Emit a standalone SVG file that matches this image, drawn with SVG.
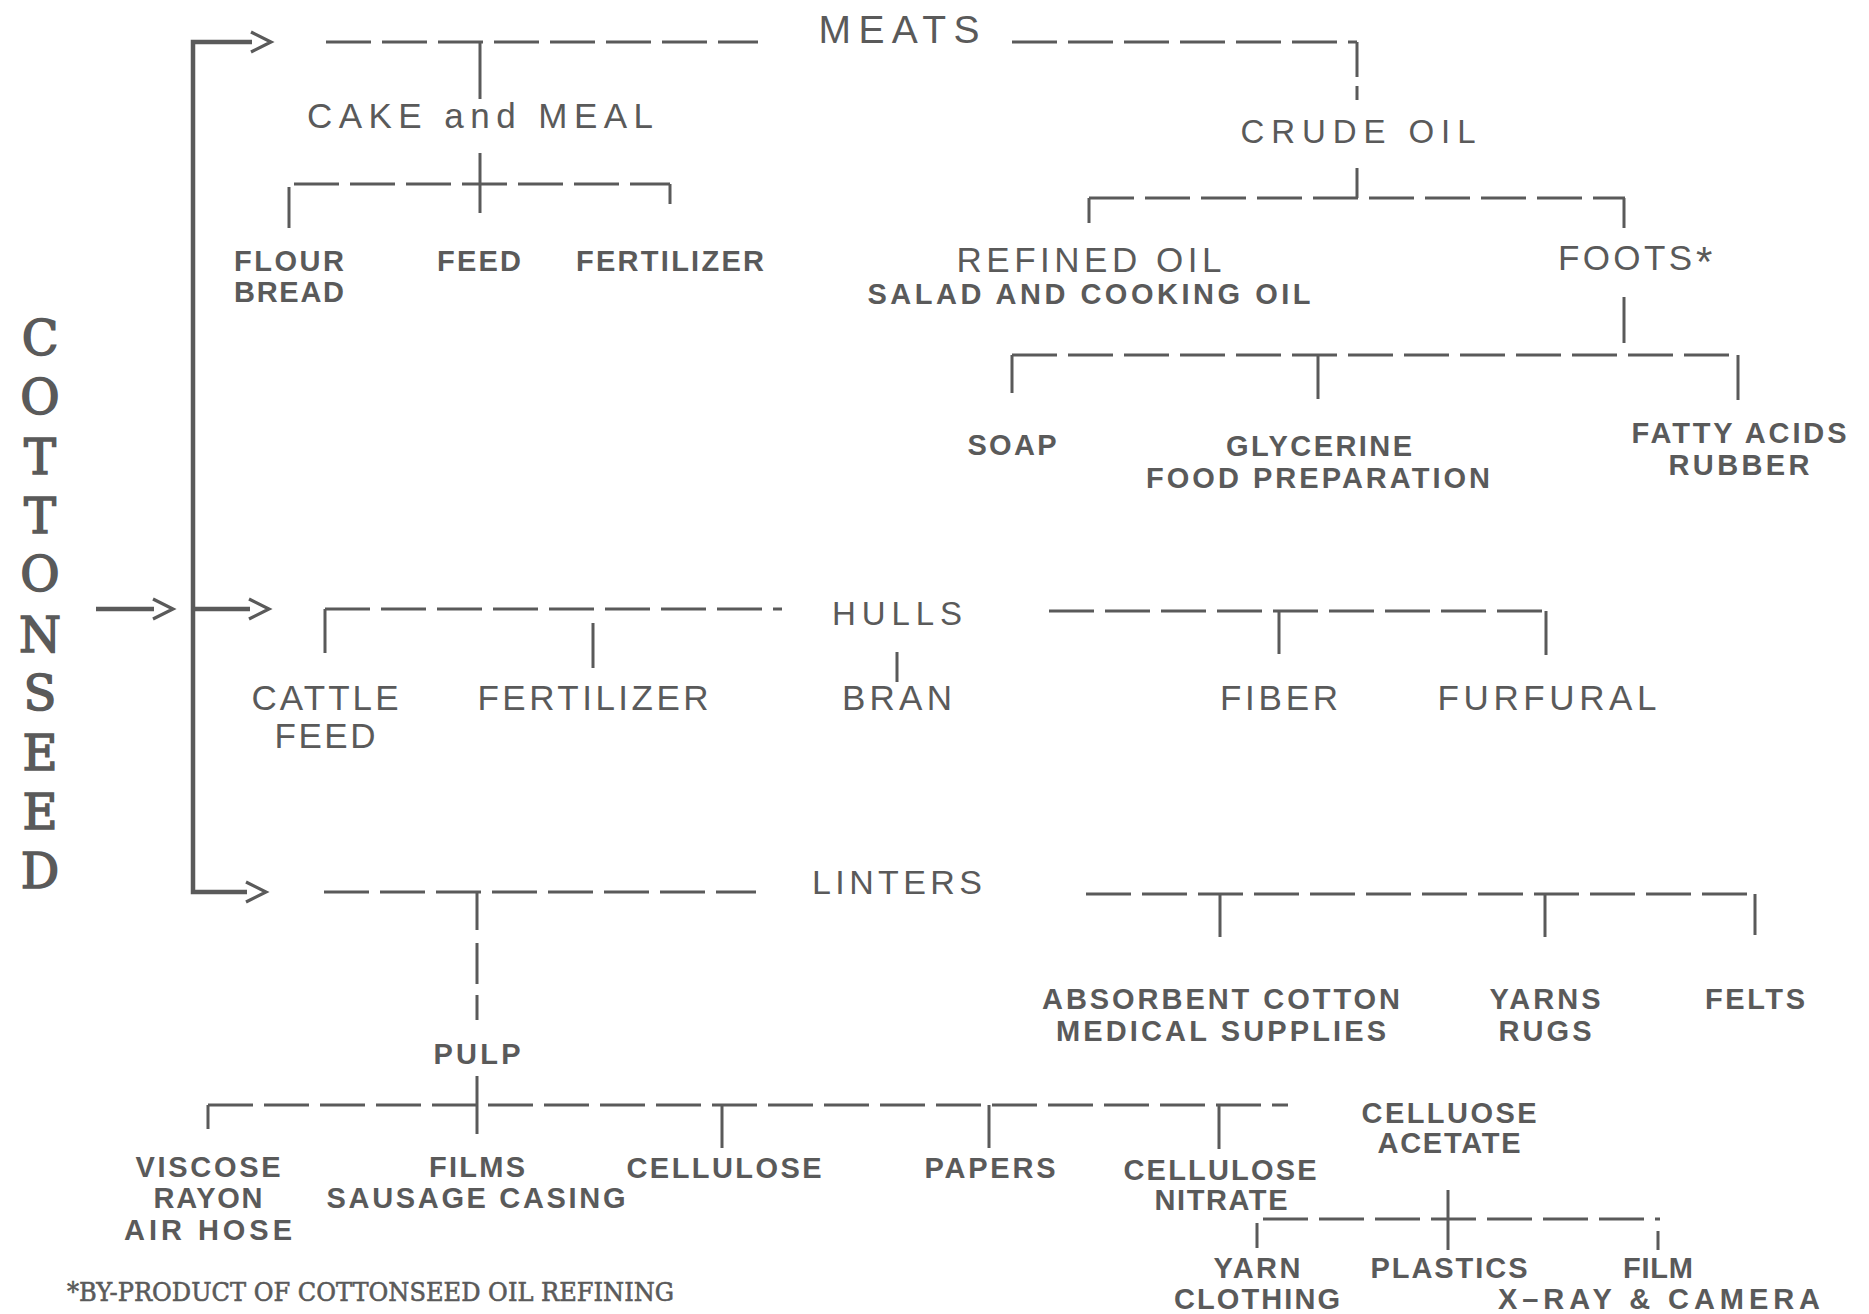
<svg xmlns="http://www.w3.org/2000/svg" width="1869" height="1314" viewBox="0 0 1869 1314">
<defs>
<style>
.ln{stroke:#5a5a5a;stroke-width:3;fill:none}
.dash{stroke-dasharray:45 11}
.bar{stroke-width:4.5;stroke-linejoin:miter}
.t{font-family:"Liberation Sans",Arial,sans-serif;fill:#5a5a5a;text-anchor:middle}
.big{font-size:35px}
.sm{font-size:29px;font-weight:bold}
.ser{font-family:"DejaVu Serif","Liberation Serif",serif;fill:#5a5a5a;stroke:#5a5a5a}
</style>
<marker id="chev" markerUnits="userSpaceOnUse" viewBox="-24 -14 28 28" markerWidth="28" markerHeight="28" refX="-19" refY="0" orient="auto-start-reverse" overflow="visible">
<path d="M-20,-10 L0,0 L-20,10" fill="none" stroke="#5a5a5a" stroke-width="3.2"/>
</marker>
</defs>
<rect width="1869" height="1314" fill="#ffffff"/>

<g id="connectors">
<path class="ln bar" d="M252 42 H193 V892 H247" marker-start="url(#chev)" marker-end="url(#chev)"/>
<path class="ln bar" d="M193 609 H250" marker-end="url(#chev)"/>
<path class="ln bar" d="M96 609 H154" marker-end="url(#chev)"/>
<!-- meats -->
<path class="ln dash" d="M326 42 H758"/>
<path class="ln" d="M480 42 V99"/>
<path class="ln dash" d="M1012 42 H1357"/>
<path class="ln" d="M1357 42 V77 M1357 86 V100"/>
<!-- cake and meal -->
<path class="ln" d="M480 153 V213"/>
<path class="ln dash" d="M294 184 H670"/>
<path class="ln" d="M289 187 V228"/>
<path class="ln" d="M670 184 V204"/>
<!-- crude oil -->
<path class="ln" d="M1357 168 V198"/>
<path class="ln dash" d="M1089 198 H1625"/>
<path class="ln" d="M1089 198 V223 M1624 198 V228"/>
<!-- foots -->
<path class="ln" d="M1624 297 V343"/>
<path class="ln dash" d="M1012 355 H1738"/>
<path class="ln" d="M1012 355 V393 M1318 355 V399 M1738 355 V400"/>
<!-- hulls -->
<path class="ln dash" d="M325 609 H782"/>
<path class="ln" d="M325 609 V653 M593 623 V668"/>
<path class="ln dash" d="M1049 611 H1546"/>
<path class="ln" d="M1279 611 V654 M1546 611 V655 M897 652 V682"/>
<!-- linters -->
<path class="ln dash" d="M324 892 H756"/>
<path class="ln" d="M477 892 V930 M477 943 V984 M477 995 V1020"/>
<path class="ln dash" d="M1086 894 H1755"/>
<path class="ln" d="M1220 894 V937 M1545 894 V937 M1755 894 V935"/>
<!-- pulp -->
<path class="ln" d="M477 1076 V1134"/>
<path class="ln dash" d="M208 1105 H1288"/>
<path class="ln" d="M208 1105 V1129 M722 1105 V1148 M989 1105 V1148 M1219 1105 V1149"/>
<!-- acetate -->
<path class="ln" d="M1448 1190 V1250"/>
<path class="ln dash" d="M1263 1219 H1660"/>
<path class="ln" d="M1257 1223 V1248 M1658 1231 V1250"/>
</g>

<g id="cottonseed">
<text class="ser" font-size="48" stroke-width="1.6" text-anchor="middle">
<tspan x="40" y="355">C</tspan><tspan x="40" y="414">O</tspan><tspan x="40" y="474">T</tspan><tspan x="40" y="533">T</tspan><tspan x="40" y="591">O</tspan><tspan x="40" y="652">N</tspan><tspan x="40" y="710">S</tspan><tspan x="40" y="770">E</tspan><tspan x="40" y="829">E</tspan><tspan x="40" y="888">D</tspan>
</text>
</g>

<g id="meats"><text class="t" x="899" y="43" font-size="39" textLength="161">MEATS</text></g>
<g id="cake-meal"><text class="t big" x="480" y="128" textLength="346">CAKE and MEAL</text></g>
<g id="flour"><text class="t sm" x="289" y="271" textLength="110">FLOUR</text><text class="t sm" x="289" y="302" textLength="110">BREAD</text></g>
<g id="feed"><text class="t sm" x="479" y="271" textLength="84">FEED</text></g>
<g id="fertilizer1"><text class="t sm" x="670" y="271" textLength="188">FERTILIZER</text></g>
<g id="crude-oil"><text class="t" x="1358" y="143" font-size="33" textLength="235">CRUDE OIL</text></g>
<g id="refined-oil"><text class="t big" x="1089" y="272" textLength="265">REFINED OIL</text><text class="t sm" x="1089" y="304" textLength="443">SALAD AND COOKING OIL</text></g>
<g id="foots"><text class="t big" x="1625" y="270" textLength="134">FOOTS</text><text class="t" x="1696" y="276" font-size="42" style="text-anchor:start">*</text></g>
<g id="soap"><text class="t sm" x="1012" y="455" textLength="89">SOAP</text></g>
<g id="glycerine"><text class="t sm" x="1319" y="456" textLength="186">GLYCERINE</text><text class="t sm" x="1318" y="488" textLength="344">FOOD PREPARATION</text></g>
<g id="fatty-acids"><text class="t sm" x="1739" y="443" textLength="215">FATTY ACIDS</text><text class="t sm" x="1739" y="475" textLength="141">RUBBER</text></g>
<g id="hulls"><text class="t" x="897" y="625" font-size="33" textLength="130">HULLS</text></g>
<g id="cattle-feed"><text class="t big" x="325" y="710" textLength="147">CATTLE</text><text class="t big" x="325" y="748" textLength="101">FEED</text></g>
<g id="fertilizer2"><text class="t big" x="593" y="710" textLength="231">FERTILIZER</text></g>
<g id="bran"><text class="t big" x="897" y="710" textLength="110">BRAN</text></g>
<g id="fiber"><text class="t big" x="1279" y="710" textLength="118">FIBER</text></g>
<g id="furfural"><text class="t big" x="1547" y="710" textLength="219">FURFURAL</text></g>
<g id="linters"><text class="t" x="897" y="894" font-size="34" textLength="170">LINTERS</text></g>
<g id="absorbent"><text class="t sm" x="1221" y="1009" textLength="358">ABSORBENT COTTON</text><text class="t sm" x="1221" y="1041" textLength="330">MEDICAL SUPPLIES</text></g>
<g id="yarns"><text class="t sm" x="1545" y="1009" textLength="111">YARNS</text><text class="t sm" x="1545" y="1041" textLength="93">RUGS</text></g>
<g id="felts"><text class="t sm" x="1755" y="1009" textLength="100">FELTS</text></g>
<g id="pulp"><text class="t sm" x="477" y="1064" textLength="87">PULP</text></g>
<g id="viscose"><text class="t sm" x="208" y="1177" textLength="145">VISCOSE</text><text class="t sm" x="208" y="1208" textLength="109">RAYON</text><text class="t sm" x="208" y="1240" textLength="168">AIR HOSE</text></g>
<g id="films"><text class="t sm" x="477" y="1177" textLength="96">FILMS</text><text class="t sm" x="476" y="1208" textLength="299">SAUSAGE CASING</text></g>
<g id="cellulose"><text class="t sm" x="724" y="1178" textLength="195">CELLULOSE</text></g>
<g id="papers"><text class="t sm" x="990" y="1178" textLength="131">PAPERS</text></g>
<g id="cellulose-nitrate"><text class="t sm" x="1220" y="1180" textLength="193">CELLULOSE</text><text class="t sm" x="1221" y="1210" textLength="133">NITRATE</text></g>
<g id="cellulose-acetate"><text class="t sm" x="1449" y="1123" textLength="175">CELLUOSE</text><text class="t sm" x="1449" y="1153" textLength="143">ACETATE</text></g>
<g id="yarn"><text class="t sm" x="1257" y="1278" textLength="87">YARN</text><text class="t sm" x="1257" y="1309" textLength="166">CLOTHING</text></g>
<g id="plastics"><text class="t sm" x="1449" y="1278" textLength="157">PLASTICS</text></g>
<g id="film"><text class="t sm" x="1658" y="1278" textLength="70">FILM</text><text class="t sm" x="1659" y="1309" textLength="322">X–RAY &amp; CAMERA</text></g>

<g id="footnote"><text class="ser" x="67" y="1301" font-size="26" stroke-width="0.6" textLength="607" lengthAdjust="spacingAndGlyphs">*BY-PRODUCT OF COTTONSEED OIL REFINING</text></g>
</svg>
